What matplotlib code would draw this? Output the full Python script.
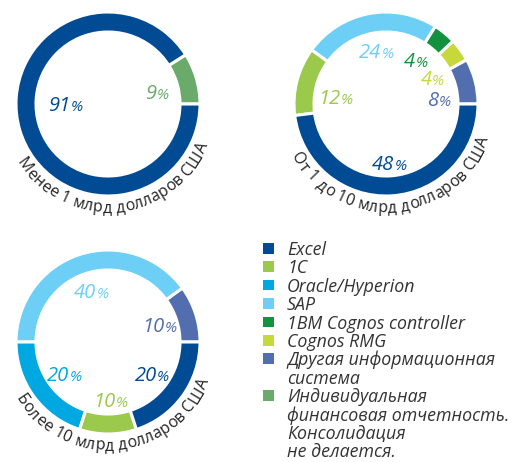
import matplotlib
matplotlib.use("Agg")
import matplotlib.pyplot as plt
import numpy as np
from matplotlib.font_manager import FontProperties
from matplotlib.patches import Rectangle

W, H, DPI = 521, 462, 100

# legend order (also the colour order)
systems = ["Excel", "1C", "Oracle/Hyperion", "SAP", "1BM Cognos controller",
           "Cognos RMG", "Другая информационная\nсистема",
           "Индивидуальная\nфинансовая отчетность.\nКонсолидация\nне делается."]
colors = ["#004b93", "#9bc94b", "#00a8e1", "#6dcff6", "#14913f",
          "#c6d83a", "#526eaf", "#6aab6c"]

groups = ["Менее 1 млрд долларов США",
          "От 1 до 10 млрд долларов США",
          "Более 10 млрд долларов США"]
# shares in %, same order as systems
shares_small = [91, 0, 0, 0, 0, 0, 0, 9]
shares_mid = [48, 12, 0, 24, 4, 4, 8, 0]
shares_big = [20, 10, 20, 40, 0, 0, 10, 0]

FONT = "Open Sans"
TEXT_COL = "#333333"


def Y(y):
    # image rows -> axes units (y up)
    return H - y


def text_adv(renderer, s, prop):
    w1 = renderer.get_text_width_height_descent("|" + s + "|", prop, ismath=False)[0]
    w0 = renderer.get_text_width_height_descent("||", prop, ismath=False)[0]
    return w1 - w0


def arc_text(ax, s, cx, cy, r, mid_deg, prop, color):
    renderer = ax.figure.canvas.get_renderer()
    advs = [text_adv(renderer, c, prop) for c in s]
    rm = r - 4
    start = mid_deg - np.degrees(sum(advs) / rm) / 2
    pos = 0.0
    for c, a in zip(s, advs):
        th = start + np.degrees((pos + a / 2) / rm)
        x = cx + r * np.cos(np.radians(th))
        y = cy + r * np.sin(np.radians(th))
        ax.text(x, y, c, fontproperties=prop, color=color, rotation=th + 90,
                rotation_mode="anchor", ha="center", va="baseline")
        pos += a


def pct_label(ax, x, y, value, color):
    renderer = ax.figure.canvas.get_renderer()
    pn = FontProperties(family=FONT, style="italic", size=14.5)
    pp = FontProperties(family=FONT, style="italic", size=11)
    wn = text_adv(renderer, str(value), pn)
    wp = text_adv(renderer, "%", pp)
    xs = x - (wn + wp) / 2 + wn
    yb = y - 7
    ax.text(xs, yb, str(value), fontproperties=pn, color=color, ha="right", va="baseline")
    ax.text(xs + 0.5, yb, "%", fontproperties=pp, color=color, ha="left", va="baseline")


def donut(ax, shares, cx, cy, caption, overrides):
    R, RW = 92, 20
    idx = [i for i in reversed(range(len(shares))) if shares[i] > 0]
    vals = [shares[i] for i in idx]
    wedges, _ = ax.pie(vals, colors=[colors[i] for i in idx], radius=R,
                       center=(cx, cy), startangle=0, counterclock=True,
                       frame=True,
                       wedgeprops=dict(width=RW, edgecolor="white", linewidth=2.2))
    for w, i in zip(wedges, idx):
        ang = (w.theta1 + w.theta2) / 2
        r = 54
        if i in overrides:
            ang, r = overrides[i]
        x = cx + r * np.cos(np.radians(ang))
        y = cy + r * np.sin(np.radians(ang))
        pct_label(ax, x, y, shares[i], colors[i])
    cap = FontProperties(family=FONT, size=11.5)
    arc_text(ax, caption, cx, cy, 108, 275, cap, "#222222")


fig = plt.figure(figsize=(W / DPI, H / DPI), dpi=DPI)
ax = fig.add_axes([0, 0, 1, 1])

donut(ax, shares_small, 108, Y(104), groups[0], {0: (180, 43), 7: (14, 50)})
donut(ax, shares_mid, 386, Y(104), groups[1],
      {4: (56, 53), 5: (29.5, 53), 6: (5, 53), 1: (172, 51), 0: (273, 59)})
donut(ax, shares_big, 108, Y(342), groups[2], {1: (272, 58)})

# legend
lp = FontProperties(family=FONT, style="italic", size=12.8)
row = 0
for name, col in zip(systems, colors):
    base = 255 + 18.4 * row
    ax.add_patch(Rectangle((263, Y(base - 1.5)), 10.5, 10.5, facecolor=col,
                           edgecolor="none"))
    for line in name.split("\n"):
        ax.text(287, Y(255 + 18.4 * row), line, fontproperties=lp,
                color=TEXT_COL, ha="left", va="baseline")
        row += 1

ax.set_xlim(0, W)
ax.set_ylim(0, H)
ax.set_aspect("equal")
ax.axis("off")
fig.savefig("out.png", dpi=DPI)
